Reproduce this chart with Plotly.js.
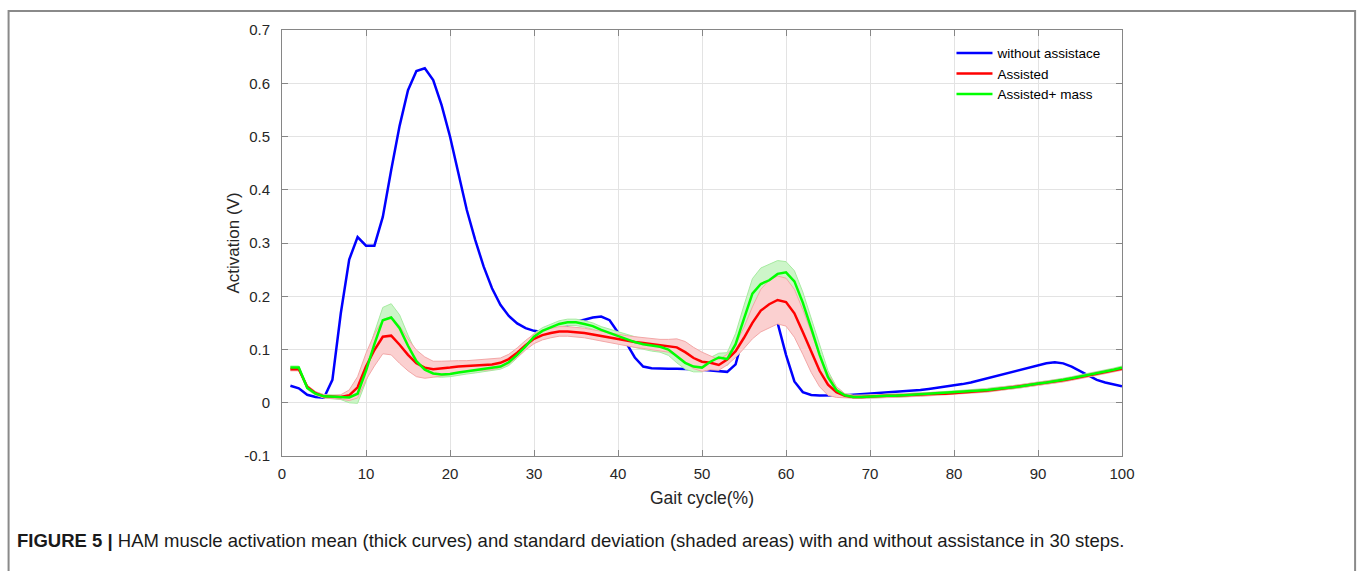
<!DOCTYPE html>
<html>
<head>
<meta charset="utf-8">
<script src="https://cdn.plot.ly/plotly-3.0.1.min.js"></script>
<style>
html,body{margin:0;padding:0;background:#fff;}
#chart{width:1360px;height:571px;}
</style>
</head>
<body>
<div id="chart"></div>
<script>
// Gait cycle samples (%)
const gait = [1,2,3,4,5,6,7,8,9,10,11,12,13,14,15,16,17,18,19,20,21,22,23,24,25,26,27,28,29,30,31,32,33,34,35,36,37,38,39,40,41,42,43,44,45,46,47,48,49,50,51,52,53,54,55,56,57,58,59,60,61,62,63,64,65,66,67,68,69,70,71,72,73,74,75,76,77,78,79,80,81,82,83,84,85,86,87,88,89,90,91,92,93,94,95,96,97,98,99,100];

// Mean activation (V) without assistance
const withoutAssist = [0.032,0.027,0.015,0.011,0.0095,0.043,0.168,0.269,0.311,0.295,0.295,0.349,0.437,0.520,0.587,0.623,0.628,0.606,0.559,0.500,0.431,0.362,0.306,0.256,0.215,0.184,0.163,0.149,0.140,0.135,0.133,0.134,0.138,0.145,0.152,0.156,0.160,0.162,0.155,0.132,0.112,0.085,0.068,0.065,0.064,0.064,0.064,0.064,0.063,0.062,0.061,0.060,0.058,0.072,0.130,0.200,0.245,0.200,0.150,0.090,0.040,0.020,0.0145,0.0135,0.0135,0.0135,0.014,0.015,0.016,0.017,0.018,0.019,0.020,0.021,0.023,0.024,0.026,0.028,0.030,0.033,0.035,0.038,0.042,0.046,0.050,0.054,0.058,0.063,0.067,0.071,0.074,0.076,0.074,0.068,0.060,0.051,0.043,0.038,0.034,0.031];

// Mean activation (V) assisted
const assisted = [0.063,0.063,0.030,0.018,0.012,0.011,0.011,0.014,0.029,0.068,0.099,0.124,0.126,0.109,0.090,0.074,0.066,0.063,0.064,0.066,0.068,0.069,0.070,0.071,0.072,0.075,0.082,0.094,0.108,0.120,0.127,0.131,0.134,0.134,0.133,0.131,0.128,0.125,0.122,0.119,0.116,0.114,0.112,0.110,0.108,0.107,0.104,0.095,0.084,0.077,0.075,0.071,0.081,0.097,0.122,0.150,0.173,0.185,0.193,0.189,0.168,0.133,0.095,0.060,0.034,0.020,0.013,0.011,0.011,0.012,0.012,0.013,0.013,0.014,0.014,0.015,0.016,0.017,0.017,0.018,0.019,0.020,0.022,0.023,0.025,0.027,0.029,0.031,0.033,0.035,0.037,0.039,0.042,0.045,0.048,0.051,0.054,0.057,0.061,0.064];

// Standard deviation (V) assisted
const assistedSD = [0.003,0.003,0.003,0.003,0.003,0.003,0.004,0.010,0.020,0.025,0.030,0.032,0.036,0.035,0.030,0.025,0.020,0.015,0.014,0.013,0.011,0.010,0.010,0.010,0.010,0.009,0.009,0.009,0.009,0.009,0.009,0.009,0.009,0.009,0.009,0.009,0.009,0.009,0.009,0.009,0.010,0.010,0.010,0.010,0.011,0.012,0.016,0.020,0.020,0.018,0.013,0.010,0.010,0.012,0.020,0.030,0.040,0.045,0.045,0.045,0.045,0.042,0.038,0.030,0.020,0.010,0.004,0.003,0.003,0.003,0.003,0.003,0.003,0.003,0.003,0.003,0.003,0.003,0.003,0.003,0.003,0.003,0.003,0.003,0.003,0.003,0.003,0.003,0.003,0.003,0.003,0.003,0.003,0.003,0.003,0.003,0.003,0.003,0.003,0.003];

// Mean activation (V) assisted + mass
const assistedMass = [0.066,0.066,0.028,0.017,0.012,0.011,0.010,0.010,0.017,0.060,0.110,0.155,0.160,0.140,0.107,0.078,0.062,0.055,0.053,0.054,0.057,0.059,0.061,0.063,0.065,0.068,0.076,0.090,0.106,0.124,0.135,0.142,0.148,0.151,0.151,0.148,0.144,0.137,0.131,0.125,0.119,0.114,0.110,0.107,0.105,0.100,0.088,0.075,0.068,0.066,0.077,0.085,0.082,0.110,0.158,0.205,0.223,0.230,0.242,0.245,0.228,0.188,0.140,0.090,0.048,0.024,0.014,0.011,0.011,0.012,0.012,0.013,0.013,0.014,0.015,0.015,0.016,0.017,0.018,0.019,0.020,0.021,0.022,0.024,0.026,0.027,0.029,0.031,0.034,0.036,0.038,0.040,0.043,0.046,0.049,0.052,0.055,0.059,0.062,0.066];

// Standard deviation (V) assisted + mass
const assistedMassSD = [0.003,0.003,0.003,0.003,0.003,0.003,0.004,0.010,0.018,0.020,0.022,0.024,0.026,0.025,0.020,0.015,0.010,0.006,0.005,0.005,0.005,0.005,0.005,0.005,0.005,0.005,0.006,0.006,0.006,0.006,0.006,0.006,0.006,0.006,0.006,0.006,0.006,0.006,0.007,0.008,0.010,0.010,0.010,0.010,0.010,0.011,0.013,0.012,0.010,0.008,0.008,0.008,0.012,0.020,0.025,0.028,0.030,0.030,0.025,0.020,0.020,0.020,0.020,0.018,0.012,0.006,0.003,0.003,0.003,0.003,0.003,0.003,0.003,0.003,0.003,0.003,0.003,0.003,0.003,0.003,0.003,0.003,0.003,0.003,0.003,0.003,0.003,0.003,0.003,0.003,0.003,0.003,0.003,0.003,0.003,0.003,0.003,0.003,0.003,0.003];

const seriesNames = ["without assistace", "Assisted", "Assisted+ mass"];
const xTickVals = [0,10,20,30,40,50,60,70,80,90,100];
const yTickVals = [-0.1,0,0.1,0.2,0.3,0.4,0.5,0.6,0.7];
const yTickText = ["-0.1","0","0.1","0.2","0.3","0.4","0.5","0.6","0.7"];

const lo = (m, s) => m.map((v, i) => v - s[i]);
const hi = (m, s) => m.map((v, i) => v + s[i]);

const traces = [
  {x: gait, y: withoutAssist, mode: 'lines', name: seriesNames[0], line: {color: '#0000ff', width: 2.5}, legendrank: 1},
  {x: gait, y: lo(assistedMass, assistedMassSD), mode: 'lines', line: {color: '#a6eba0', width: 1}, showlegend: false, hoverinfo: 'skip'},
  {x: gait, y: hi(assistedMass, assistedMassSD), mode: 'lines', fill: 'tonexty', fillcolor: '#cdf5c9', line: {color: '#a6eba0', width: 1}, showlegend: false, hoverinfo: 'skip'},
  {x: gait, y: lo(assisted, assistedSD), mode: 'lines', line: {color: '#f3a7a7', width: 1}, showlegend: false, hoverinfo: 'skip'},
  {x: gait, y: hi(assisted, assistedSD), mode: 'lines', fill: 'tonexty', fillcolor: '#fbd0d0', line: {color: '#f3a7a7', width: 1}, showlegend: false, hoverinfo: 'skip'},
  {x: gait, y: assisted, mode: 'lines', name: seriesNames[1], line: {color: '#ff0000', width: 2.5}, legendrank: 2},
  {x: gait, y: assistedMass, mode: 'lines', name: seriesNames[2], line: {color: '#00ff00', width: 2.5}, legendrank: 3}
];

const FONT = 'Liberation Sans, Arial, sans-serif';
const axisCommon = {
  showline: true, linecolor: '#868686', linewidth: 1, mirror: 'allticks',
  ticks: 'inside', ticklen: 6, tickcolor: '#868686',
  showgrid: true, gridcolor: '#e3e3e3', gridwidth: 1, zeroline: false,
  tickfont: {family: FONT, size: 15, color: '#262626'}
};

const layout = {
  width: 1360, height: 571,
  margin: {l: 282, r: 237.5, t: 30, b: 115, pad: 0},
  paper_bgcolor: '#ffffff', plot_bgcolor: '#ffffff',
  showlegend: true,
  legend: {x: 0.797, y: 0.982, xanchor: 'left', yanchor: 'top', bgcolor: 'rgba(255,255,255,0)',
    borderwidth: 0, font: {family: FONT, size: 13.5, color: '#000'},
    itemwidth: 36, tracegroupgap: 0, traceorder: 'normal'},
  xaxis: Object.assign({}, axisCommon, {range: [0, 100], tickvals: xTickVals, ticklabelstandoff: 4,
    title: {text: 'Gait cycle(%)', standoff: 10, font: {family: FONT, size: 17.5, color: '#262626'}}}),
  yaxis: Object.assign({}, axisCommon, {range: [-0.1, 0.7], tickvals: yTickVals, ticktext: yTickText, ticklabelstandoff: 8,
    title: {text: 'Activation (V)', standoff: 0, font: {family: FONT, size: 17, color: '#262626'}}}),
  shapes: [
    {type: 'rect', xref: 'paper', yref: 'paper', x0: -0.3255, x1: 1.2775, y0: -0.29, y1: 1.0446,
     line: {color: '#8a8a8a', width: 2}, fillcolor: 'rgba(0,0,0,0)', layer: 'below'}
  ],
  annotations: [
    {xref: 'paper', yref: 'paper', x: -0.3178, y: -0.1995, xanchor: 'left', yanchor: 'middle', showarrow: false,
     text: '<b>FIGURE 5 |</b> HAM muscle activation mean (thick curves) and standard deviation (shaded areas) with and without assistance in 30 steps.',
     font: {family: FONT, size: 18.5, color: '#1a1a1a'}}
  ]
};

Plotly.newPlot('chart', traces, layout, {displayModeBar: false, staticPlot: true});
</script>
</body>
</html>
